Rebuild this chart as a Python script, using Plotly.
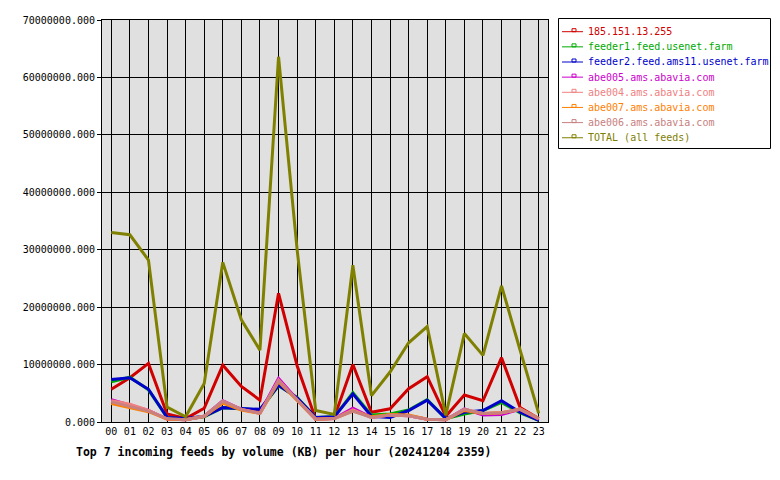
import plotly.graph_objects as go

hours = ["00", "01", "02", "03", "04", "05", "06", "07", "08", "09", "10", "11",
         "12", "13", "14", "15", "16", "17", "18", "19", "20", "21", "22", "23"]

names = ["185.151.13.255", "feeder1.feed.usenet.farm", "feeder2.feed.ams11.usenet.farm",
         "abe005.ams.abavia.com", "abe004.ams.abavia.com", "abe007.ams.abavia.com",
         "abe006.ams.abavia.com", "TOTAL (all feeds)"]

colors = ["#d00000", "#00aa00", "#0000cc", "#cc00cc", "#f08080", "#ff8000", "#c88080", "#808000"]

feed_185 = [5700000, 7700000, 10200000, 1400000, 600000, 2400000, 9900000, 6200000,
            3800000, 22400000, 9800000, 500000, 800000, 10000000, 1700000, 2300000,
            5800000, 7900000, 1000000, 4700000, 3700000, 11200000, 2500000, 600000]
feeder1 = [7000000, 7800000, 5600000, 800000, 500000, 900000, 2500000, 2300000,
           2100000, 6300000, 4300000, 800000, 900000, 5100000, 1200000, 1400000,
           2100000, 3900000, 600000, 1400000, 2000000, 3400000, 1600000, 300000]
feeder2 = [7400000, 7700000, 5700000, 800000, 600000, 1000000, 2500000, 2300000,
           2200000, 6400000, 4200000, 800000, 900000, 4900000, 1000000, 800000,
           2000000, 3800000, 600000, 1700000, 2000000, 3700000, 1700000, 300000]
abe005 = [3900000, 3000000, 2000000, 500000, 400000, 1000000, 3700000, 2200000,
          1600000, 7600000, 3900000, 500000, 600000, 2400000, 800000, 1200000,
          1100000, 500000, 400000, 2300000, 1200000, 1300000, 2200000, 500000]
abe004 = [3700000, 3100000, 2000000, 500000, 400000, 1000000, 3600000, 2200000,
          1500000, 7300000, 3800000, 500000, 600000, 2100000, 800000, 1200000,
          1100000, 500000, 400000, 2200000, 1500000, 1600000, 2300000, 600000]
abe007 = [3200000, 2500000, 1800000, 500000, 400000, 1000000, 3300000, 2100000,
          1500000, 7000000, 3700000, 500000, 600000, 1900000, 900000, 1300000,
          1200000, 500000, 400000, 2000000, 1500000, 1600000, 2200000, 600000]
abe006 = [3500000, 2700000, 1900000, 600000, 400000, 1000000, 3600000, 2200000,
          1500000, 7200000, 3800000, 500000, 600000, 1900000, 800000, 1200000,
          1100000, 500000, 400000, 2200000, 1500000, 1600000, 2200000, 600000]
total = [33000000, 32600000, 28200000, 2600000, 900000, 6700000, 27800000, 17800000,
         12500000, 63600000, 30000000, 2000000, 1300000, 27300000, 4600000, 8700000,
         13800000, 16600000, 1200000, 15400000, 11600000, 23700000, 12500000, 1500000]

series = [feed_185, feeder1, feeder2, abe005, abe004, abe007, abe006, total]

y_ticks = [0, 10000000, 20000000, 30000000, 40000000, 50000000, 60000000, 70000000]
title_text = "Top 7 incoming feeds by volume (KB) per hour (20241204 2359)"

MONO = "DejaVu Sans Mono"
W, H = 780, 480
L, R, T, B = 102, 548, 20, 422


def px(x):
    return (x - L) / (R - L)


def py(y):
    return (B - y) / (B - T)


fig = go.Figure()
for name, vals, col in zip(names, series, colors):
    fig.add_trace(go.Scatter(x=hours, y=vals, name=name, mode="lines",
                             line=dict(color=col, width=3), showlegend=False))

shapes = []
annotations = []

# legend box
shapes.append(dict(type="rect", xref="paper", yref="paper",
                   x0=px(558.5), x1=px(770.5), y0=py(148.5), y1=py(18.5),
                   line=dict(color="black", width=1), fillcolor="white", layer="above"))
item_y0, item_dy = 31.7, 15.15
for i, (name, col) in enumerate(zip(names, colors)):
    yy = item_y0 + i * item_dy
    shapes.append(dict(type="line", xref="paper", yref="paper",
                       x0=px(562), x1=px(583), y0=py(yy), y1=py(yy),
                       line=dict(color=col, width=1), layer="above"))
    shapes.append(dict(type="rect", xref="paper", yref="paper",
                       x0=px(572), x1=px(576), y0=py(yy), y1=py(yy - 3),
                       line=dict(color=col, width=1), layer="above"))
    annotations.append(dict(text=name, xref="paper", yref="paper", x=px(585.5), y=py(yy),
                            xanchor="left", yanchor="middle", showarrow=False,
                            font=dict(family=MONO, size=10, color=col)))

annotations.append(dict(text="<b>" + title_text + "</b>", xref="paper", yref="paper",
                        x=px(74), y=py(452), xanchor="left", yanchor="middle",
                        showarrow=False, font=dict(family=MONO, size=11.5, color="black")))

fig.update_layout(
    width=W, height=H,
    margin=dict(l=L, r=W - R, t=T, b=H - B, pad=0),
    paper_bgcolor="white", plot_bgcolor="#e0e0e0",
    font=dict(family=MONO, size=10, color="black"),
    shapes=shapes, annotations=annotations,
    showlegend=False,
)
fig.update_xaxes(type="category", range=[-0.5, 23.5], showgrid=True, gridcolor="black",
                 gridwidth=1, showline=True, linecolor="black", linewidth=1, mirror=True,
                 ticks="", tickfont=dict(family=MONO, size=10, color="black"),
                 zeroline=False, fixedrange=True)
fig.update_yaxes(range=[0, 70000000], tickvals=y_ticks,
                 ticktext=[f"{v:.3f}" for v in y_ticks],
                 showgrid=True, gridcolor="black", gridwidth=1, showline=True,
                 linecolor="black", linewidth=1, mirror=True, ticks="outside", ticklen=4,
                 tickcolor="black", tickfont=dict(family=MONO, size=10, color="black"),
                 zeroline=False, fixedrange=True)

fig.write_html("out.html")
